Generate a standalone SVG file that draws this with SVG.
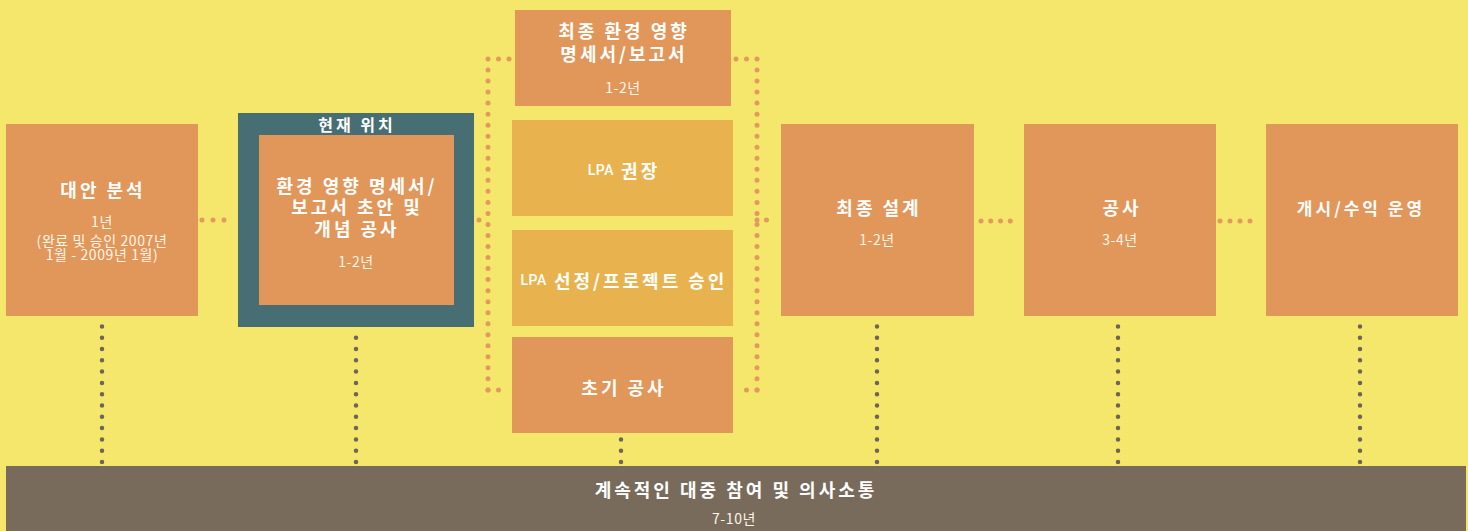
<svg xmlns="http://www.w3.org/2000/svg" width="1468" height="531" viewBox="0 0 1468 531">
<defs>
<style>
.bg{fill:#F5E76B}
.box{fill:#E1965A}
.lbox{fill:#E8B34E}
.teal{fill:#476E73}
.bar{fill:#786B5B}
.t{font-family:"Noto Sans CJK KR","Noto Sans",sans-serif;font-weight:700;fill:#FFFFFF;text-anchor:middle;dominant-baseline:central;letter-spacing:3px}
.s{font-family:"Noto Sans CJK KR","Noto Sans",sans-serif;font-weight:400;fill:#FFF6EA;text-anchor:middle;dominant-baseline:central;letter-spacing:0.6px}
.lpa{font-family:Roboto,"Noto Sans",sans-serif;font-weight:500;font-size:14px;letter-spacing:0.5px}
.od{fill:none;stroke:#E39A5E;stroke-width:5;stroke-linecap:round}
.gd{fill:none;stroke:#6F6459;stroke-width:4.5;stroke-linecap:round;stroke-dasharray:0 11.3}
</style>
</defs>
<rect class="bg" x="0" y="0" width="1468" height="531"/>
<g id="connectors">
<path class="od" stroke-dasharray="0 11" d="M202 220 H235"/>
<path class="od" stroke-dasharray="0 10" d="M479 220 H489"/>
<path class="od" stroke-dasharray="0 10.5" d="M509 59 H488"/>
<path class="od" stroke-dasharray="0 11.03" d="M488 59 V390"/>
<path class="od" stroke-dasharray="0 10.5" d="M488 390 H509"/>
<path class="od" stroke-dasharray="0 10.5" d="M736 59 H757"/>
<path class="od" stroke-dasharray="0 11.03" d="M757 59 V390"/>
<path class="od" stroke-dasharray="0 10.5" d="M757 390 H736"/>
<path class="od" stroke-dasharray="0 9.5" d="M757 220 H776"/>
<path class="od" stroke-dasharray="0 9.75" d="M981 221 H1020"/>
<path class="od" stroke-dasharray="0 10" d="M1220 221 H1260"/>
<path class="gd" d="M102 462 V316"/>
<path class="gd" d="M356 462 V328"/>
<path class="gd" d="M621 462 V434"/>
<path class="gd" d="M877 462 V316"/>
<path class="gd" d="M1118 462 V316"/>
<path class="gd" d="M1360 462 V316"/>
</g>
<g id="node-alt">
<rect class="box" x="6" y="124" width="192" height="192"/>
<text class="t" x="103" y="189" font-size="18">대안 분석</text>
<text class="s" x="102" y="221" font-size="14">1년</text>
<text class="s" x="102" y="240" font-size="14" letter-spacing="1.2">(완료 및 승인 2007년</text>
<text class="s" x="102" y="254" font-size="14" letter-spacing="1.2">1월 - 2009년 1월)</text>
</g>
<g id="node-current">
<rect class="teal" x="238" y="113" width="236" height="214"/>
<text class="t" x="357" y="124" font-size="16">현재 위치</text>
<rect class="box" x="259" y="135" width="195" height="170"/>
<text class="t" x="357" y="185" font-size="18">환경 영향 명세서/</text>
<text class="t" x="357" y="206" font-size="18">보고서 초안 및</text>
<text class="t" x="357" y="228" font-size="18">개념 공사</text>
<text class="s" x="356" y="261" font-size="14">1-2년</text>
</g>
<g id="node-final-eis">
<rect class="box" x="515" y="10" width="216" height="96"/>
<text class="t" x="624" y="30" font-size="18">최종 환경 영향</text>
<text class="t" x="624" y="53" font-size="18">명세서/보고서</text>
<text class="s" x="623" y="87" font-size="14">1-2년</text>
</g>
<g id="node-lpa-rec">
<rect class="lbox" x="512" y="120" width="221" height="96"/>
<text class="t" x="624" y="170" font-size="18"><tspan class="lpa">LPA</tspan> 권장</text>
</g>
<g id="node-lpa-sel">
<rect class="lbox" x="512" y="230" width="221" height="96"/>
<text class="t" x="624" y="280" font-size="18"><tspan class="lpa">LPA</tspan> 선정/프로젝트 승인</text>
</g>
<g id="node-early">
<rect class="box" x="512" y="337" width="221" height="96"/>
<text class="t" x="624" y="387" font-size="18" letter-spacing="3.5">초기 공사</text>
</g>
<g id="node-final-design">
<rect class="box" x="781" y="124" width="193" height="192"/>
<text class="t" x="879" y="207" font-size="18" letter-spacing="3.5">최종 설계</text>
<text class="s" x="877" y="239" font-size="14">1-2년</text>
</g>
<g id="node-construction">
<rect class="box" x="1024" y="124" width="192" height="192"/>
<text class="t" x="1122" y="207" font-size="18" letter-spacing="3.5">공사</text>
<text class="s" x="1120" y="239" font-size="14">3-4년</text>
</g>
<g id="node-operation">
<rect class="box" x="1266" y="124" width="192" height="192"/>
<text class="t" x="1361" y="207" font-size="17" letter-spacing="1.5">개시/수익 운영</text>
</g>
<g id="node-public">
<rect class="bar" x="6" y="466" width="1460" height="65"/>
<text class="t" x="736" y="489" font-size="18" letter-spacing="4.5">계속적인 대중 참여 및 의사소통</text>
<text class="s" x="734" y="518" font-size="14">7-10년</text>
</g>
</svg>
